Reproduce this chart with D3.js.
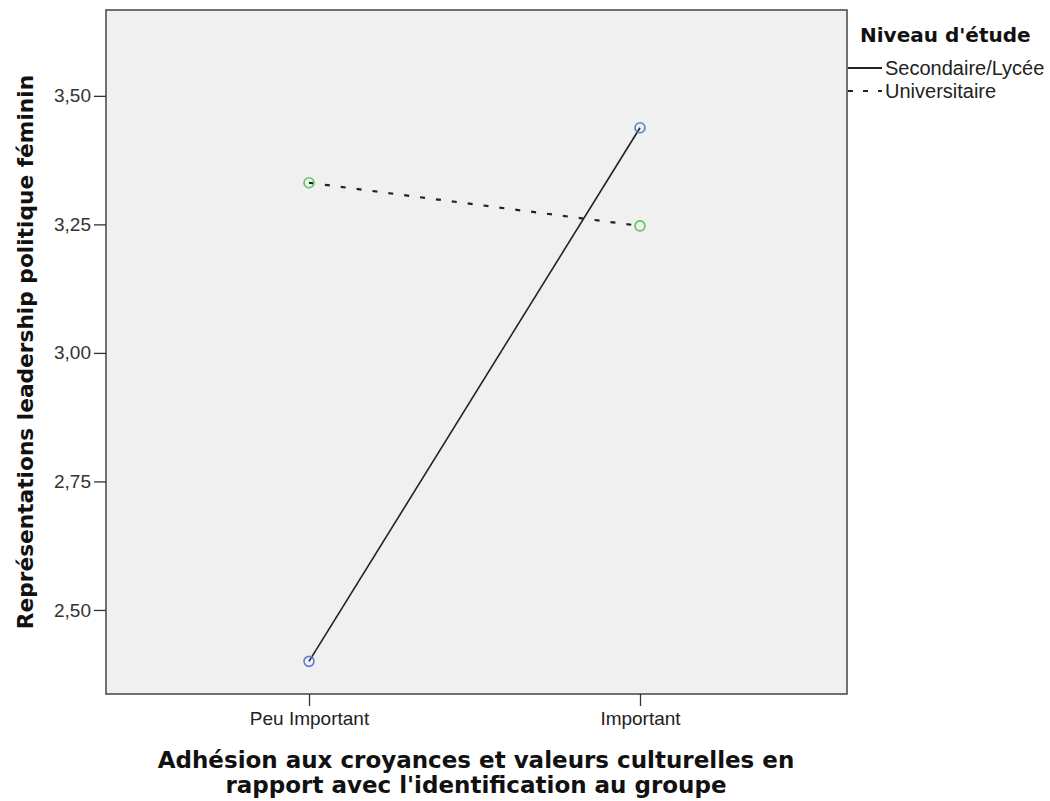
<!DOCTYPE html>
<html>
<head>
<meta charset="utf-8">
<script src="https://cdn.jsdelivr.net/npm/d3@7"></script>
<style>
  body { margin: 0; background: #fff; }
  svg { display: block; }
</style>
</head>
<body>
<svg id="chart" width="1050" height="801"></svg>
<script>
// data
const categories = ['Peu Important', 'Important'];
const secondaire = [2.40, 3.438];
const universitaire = [3.331, 3.247];
const yTicks = [2.50, 2.75, 3.00, 3.25, 3.50];

const series = [
    { name: 'Secondaire/Lycée', values: secondaire, marker: '#5b7bd6', dash: null },
    { name: 'Universitaire', values: universitaire, marker: '#55c85f', dash: '5,11' }
];

const svg = d3.select('#chart');
const plot = { left: 106, right: 847, top: 10, bottom: 694 };

const x = d3.scalePoint()
    .domain(categories)
    .range([309, 640]);

const y = d3.scaleLinear()
    .domain([2.3365, 3.667])
    .range([plot.bottom, plot.top]);

// plot background
svg.append('rect')
    .attr('x', plot.left)
    .attr('y', plot.top)
    .attr('width', plot.right - plot.left)
    .attr('height', plot.bottom - plot.top)
    .attr('fill', '#f0f0f0')
    .attr('stroke', '#444')
    .attr('stroke-width', 1.5);

// y axis
const yAxis = svg.append('g')
    .attr('transform', `translate(${plot.left},0)`)
    .call(d3.axisLeft(y).tickValues(yTicks).tickSize(12).tickPadding(3)
        .tickFormat(d => d3.format('.2f')(d).replace('.', ',')));
yAxis.select('.domain').remove();
yAxis.selectAll('line').attr('stroke', '#333').attr('stroke-width', 1.3);
yAxis.selectAll('text')
    .attr('font-family', 'Liberation Sans, Arial, sans-serif')
    .attr('font-size', 19)
    .attr('fill', '#333');

// x axis
const xAxis = svg.append('g')
    .attr('transform', `translate(0,${plot.bottom})`)
    .call(d3.axisBottom(x).tickSize(12).tickPadding(6));
xAxis.select('.domain').remove();
xAxis.selectAll('line').attr('stroke', '#333').attr('stroke-width', 1.3);
xAxis.selectAll('text')
    .attr('font-family', 'Liberation Sans, Arial, sans-serif')
    .attr('font-size', 19)
    .attr('fill', '#222');

// lines
const line = d3.line()
    .x((d, i) => x(categories[i]))
    .y(d => y(d));

series.forEach(s => {
    svg.append('path')
        .datum(s.values)
        .attr('fill', 'none')
        .attr('stroke', '#222')
        .attr('stroke-width', s.dash ? 2.2 : 1.6)
        .attr('stroke-dasharray', s.dash)
        .attr('d', line);
});

series.forEach(s => {
    svg.selectAll(null)
        .data(s.values)
        .enter().append('circle')
        .attr('cx', (d, i) => x(categories[i]))
        .attr('cy', d => y(d))
        .attr('r', 5)
        .attr('fill', 'none')
        .attr('stroke', s.marker)
        .attr('stroke-width', 1.6);
});

// axis titles
svg.append('text')
    .attr('transform', `translate(33,${(plot.top + plot.bottom) / 2}) rotate(-90)`)
    .attr('text-anchor', 'middle')
    .attr('font-family', 'DejaVu Sans, Verdana, sans-serif')
    .attr('font-weight', 'bold')
    .attr('font-size', 21.7)
    .attr('fill', '#111')
    .text('Représentations leadership politique féminin');

const xTitle = svg.append('text')
    .attr('text-anchor', 'middle')
    .attr('font-family', 'DejaVu Sans, Verdana, sans-serif')
    .attr('font-weight', 'bold')
    .attr('font-size', 23)
    .attr('fill', '#111');
xTitle.append('tspan').attr('x', 476).attr('y', 768)
    .text('Adhésion aux croyances et valeurs culturelles en');
xTitle.append('tspan').attr('x', 476).attr('y', 793)
    .text("rapport avec l'identification au groupe");

// legend
const legend = svg.append('g');
legend.append('text')
    .attr('x', 860).attr('y', 42)
    .attr('font-family', 'DejaVu Sans, Verdana, sans-serif')
    .attr('font-weight', 'bold')
    .attr('font-size', 20)
    .attr('fill', '#111')
    .text("Niveau d'étude");

series.forEach((s, i) => {
    const ly = 68 + i * 23;
    legend.append('line')
        .attr('x1', 848).attr('x2', 882)
        .attr('y1', ly).attr('y2', ly)
        .attr('stroke', '#222')
        .attr('stroke-width', 2)
        .attr('stroke-dasharray', s.dash ? '5,10' : null);
    legend.append('text')
        .attr('x', 885).attr('y', ly + 7)
        .attr('font-family', 'Liberation Sans, Arial, sans-serif')
        .attr('font-size', 20)
        .attr('fill', '#222')
        .text(s.name);
});
</script>
</body>
</html>
